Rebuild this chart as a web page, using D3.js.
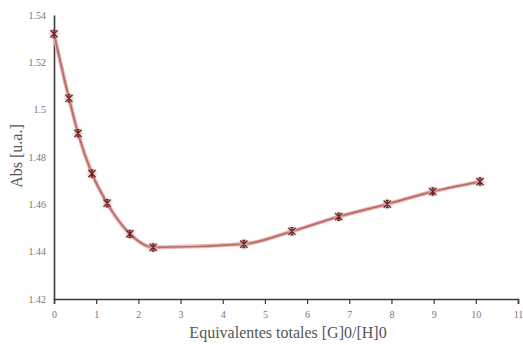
<!DOCTYPE html>
<html><head><meta charset="utf-8">
<script src="https://cdn.jsdelivr.net/npm/d3@7"></script>
<style>body{margin:0;background:#fff}svg{display:block}</style>
</head><body>
<script>
const xValues = [0, 0.355, 0.57, 0.9, 1.26, 1.8, 2.35, 4.5, 5.64, 6.75, 7.9, 8.98, 10.1];
const yValues = [1.532, 1.5048, 1.490, 1.473, 1.4605, 1.4475, 1.4418, 1.4432, 1.4486, 1.4548, 1.4601, 1.4654, 1.4696];
const xTicks = [0,1,2,3,4,5,6,7,8,9,10,11];
const yTicks = [1.42,1.44,1.46,1.48,1.5,1.52,1.54];
const yTickLabels = ["1.42","1.44","1.46","1.48","1.5","1.52","1.54"];
const xTitle = "Equivalentes totales [G]0/[H]0";
const yTitle = "Abs [u.a.]";

const W=523,H=345;
const svg=d3.select("body").append("svg").attr("width",W).attr("height",H);
const x=d3.scaleLinear().domain([0,11]).range([54,518]);
const y=d3.scaleLinear().domain([1.42,1.54]).range([299,15]);
const font="'Liberation Serif','DejaVu Serif',serif";

const defs=svg.append("defs");
const f=defs.append("filter").attr("id","glow").attr("x","-1").attr("y","-1").attr("width","3").attr("height","3");
f.append("feGaussianBlur").attr("stdDeviation",1.8);

// axes
const xa=svg.append("g").attr("transform","translate(0,299)")
  .call(d3.axisBottom(x).tickValues(xTicks).tickSize(5).tickPadding(7).tickFormat(d3.format("d")));
const ya=svg.append("g").attr("transform","translate(54,0)")
  .call(d3.axisLeft(y).tickValues(yTicks).tickSize(0).tickPadding(8).tickFormat((d,i)=>yTickLabels[i]));
[xa,ya].forEach(a=>{
  a.select(".domain").attr("stroke","#3a3a3a").attr("stroke-width",1.6);
  a.selectAll(".tick line").attr("stroke","#3a3a3a").attr("stroke-width",1.2);
  a.selectAll("text").attr("font-family",font).attr("font-size",10).attr("fill","#777");
});

// line
const pts=xValues.map((v,i)=>[v,yValues[i]]);
const line=d3.line().x(d=>x(d[0])).y(d=>y(d[1])).curve(d3.curveMonotoneX);
svg.append("path").attr("d",line(pts)).attr("fill","none").attr("stroke","#e2b8b5").attr("stroke-width",4);
svg.append("path").attr("d",line(pts)).attr("fill","none").attr("stroke","#c06a66").attr("stroke-width",1.8);

// markers
const m=svg.append("g").selectAll("g").data(pts).join("g")
  .attr("transform",d=>`translate(${x(d[0])},${y(d[1])})`);
m.append("circle").attr("r",4.5).attr("fill","#bbb").attr("opacity",0.7).attr("filter","url(#glow)");
const s=3.6;
m.append("path").attr("d",`M${-s},${-s}L${s},${s}M${s},${-s}L${-s},${s}M0,${-s}L0,${s}M${-1.5},${-s}L${1.5},${-s}M${-1.5},${s}L${1.5},${s}`)
  .attr("stroke","#7a1f1f").attr("stroke-width",1.3).attr("fill","none");

// titles
svg.append("text").attr("x",288).attr("y",338).attr("text-anchor","middle")
  .attr("font-family",font).attr("font-size",16).attr("fill","#555").text(xTitle);
svg.append("text").attr("transform","translate(22,156) rotate(-90)").attr("text-anchor","middle")
  .attr("font-family",font).attr("font-size",16).attr("fill","#555").text(yTitle);
</script>
</body></html>
